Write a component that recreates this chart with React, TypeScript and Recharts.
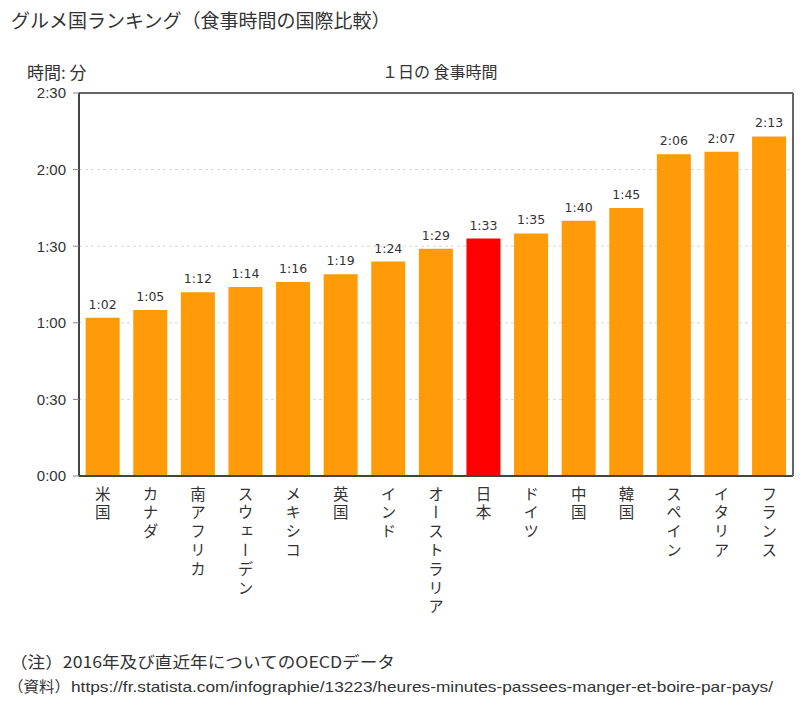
import React from 'react'
import { BarChart, Bar, XAxis, YAxis, CartesianGrid, Cell, LabelList, ReferenceLine } from 'recharts'

const countries = [
  '米国', 'カナダ', '南アフリカ', 'スウェーデン', 'メキシコ', '英国', 'インド',
  'オーストラリア', '日本', 'ドイツ', '中国', '韓国', 'スペイン', 'イタリア', 'フランス',
]
// minutes per day
const minutes = [62, 65, 72, 74, 76, 79, 84, 89, 93, 95, 100, 105, 126, 127, 133]
const yTicks = [0, 30, 60, 90, 120, 150]
const highlight = '日本'

const ORANGE = '#ff9a08'
const RED = '#ff0000'
const JP_FONT = '"Noto Sans CJK JP", "Noto Sans", sans-serif'
const NUM_FONT = '"DejaVu Sans", sans-serif'
const TICK_FONT = '"Liberation Sans", Arial, sans-serif'

const data = countries.map((name, i) => ({ name, value: minutes[i] }))

const fmt = (v: number) => `${Math.floor(v / 60)}:${String(v % 60).padStart(2, '0')}`

// category names written top to bottom (tategaki)
function VerticalTick(props: any) {
  const { x, y, payload } = props
  return (
    <text
      x={x}
      y={y + 2}
      fontSize={15.5}
      fill="#333"
      fontFamily={JP_FONT}
      letterSpacing={3.3}
      style={{ writingMode: 'vertical-rl' }}
    >
      {payload.value}
    </text>
  )
}

export default function App() {
  return (
    <div style={{ position: 'absolute', left: 0, top: 0, width: 810, height: 710, background: '#fff', fontFamily: JP_FONT, color: '#333' }}>
      <div style={{ position: 'absolute', left: 11, top: 6, fontSize: 19, whiteSpace: 'nowrap' }}>
        グルメ国ランキング（食事時間の国際比較）
      </div>
      <div style={{ position: 'absolute', left: 27, top: 59, fontSize: 17, whiteSpace: 'nowrap' }}>時間: 分</div>
      <div style={{ position: 'absolute', left: 382, top: 59, fontSize: 16, whiteSpace: 'nowrap' }}>１日の 食事時間</div>

      <BarChart
        width={810}
        height={710}
        data={data}
        margin={{ top: 93, right: 16, left: 19, bottom: 84 }}
        barCategoryGap="14%"
      >
        <CartesianGrid vertical={false} stroke="#d8d8d8" strokeDasharray="3 3" />
        <XAxis
          dataKey="name"
          interval={0}
          tickLine={false}
          axisLine={{ stroke: '#444', strokeWidth: 2 }}
          tick={<VerticalTick />}
          height={150}
        />
        <YAxis
          domain={[0, 150]}
          ticks={yTicks}
          tickFormatter={fmt}
          width={60}
          tickSize={6}
          tickMargin={7}
          tick={{ fontSize: 15, fill: '#333', fontFamily: TICK_FONT }}
          axisLine={{ stroke: '#444', strokeWidth: 2 }}
          tickLine={{ stroke: '#888' }}
        />
        <YAxis yAxisId="right" orientation="right" domain={[0, 150]} tick={false} tickLine={false} width={1} axisLine={{ stroke: '#666', strokeWidth: 2 }} />
        <ReferenceLine y={150} stroke="#666" strokeWidth={2} />
        <Bar dataKey="value" isAnimationActive={false}>
          {data.map((d, i) => (
            <Cell key={i} fill={d.name === highlight ? RED : ORANGE} />
          ))}
          <LabelList
            dataKey="value"
            position="top"
            offset={9}
            formatter={(v: any) => fmt(Number(v))}
            style={{ fontSize: 12.5, fill: '#333', fontFamily: NUM_FONT }}
          />
        </Bar>
      </BarChart>

      <svg width={810} height={70} style={{ position: 'absolute', left: 0, top: 640 }}>
        <text x={10} y={28} fontSize={16} fill="#333" fontFamily={JP_FONT} textLength={385} lengthAdjust="spacingAndGlyphs">
          （注）2016年及び直近年についてのOECDデータ
        </text>
        <text x={8} y={52} fontSize={15} fill="#333" fontFamily={JP_FONT} textLength={62} lengthAdjust="spacingAndGlyphs">（資料）</text>
        <text x={71} y={52} fontSize={15} fill="#333" fontFamily={TICK_FONT} textLength={702} lengthAdjust="spacingAndGlyphs">
          https://fr.statista.com/infographie/13223/heures-minutes-passees-manger-et-boire-par-pays/
        </text>
      </svg>
    </div>
  )
}
